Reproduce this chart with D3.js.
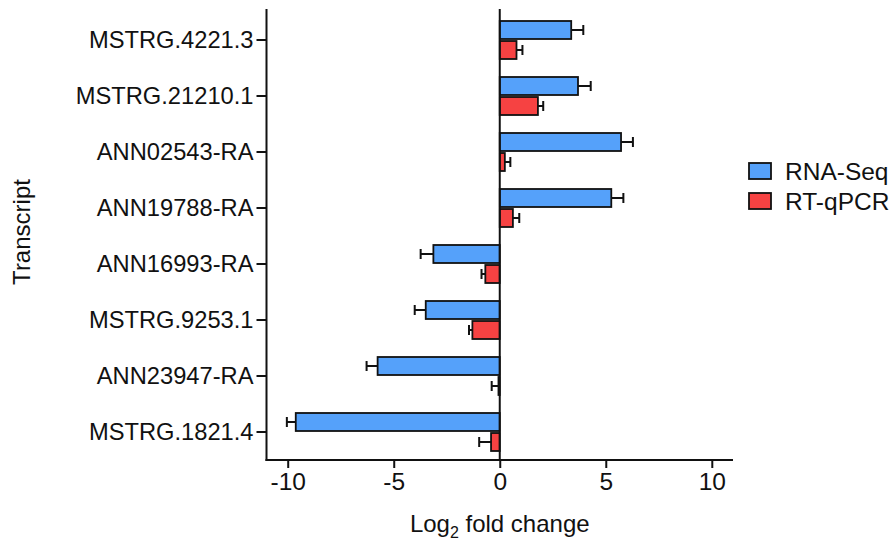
<!DOCTYPE html>
<html>
<head>
<meta charset="utf-8">
<script src="https://cdn.jsdelivr.net/npm/d3@7"></script>
<style>
  body { margin: 0; background: #fff; }
  svg { display: block; font-family: "Liberation Sans", Arial, sans-serif; }
</style>
</head>
<body>
<svg width="890" height="540"></svg>
<script>
const transcripts = ["MSTRG.4221.3", "MSTRG.21210.1", "ANN02543-RA", "ANN19788-RA",
                     "ANN16993-RA", "MSTRG.9253.1", "ANN23947-RA", "MSTRG.1821.4"];
const rnaSeq    = [3.37, 3.69, 5.72, 5.26, -3.13, -3.49, -5.76, -9.62];
const rnaSeqErr = [0.57, 0.60, 0.56, 0.57, 0.60, 0.52, 0.52, 0.42];
const qpcr      = [0.79, 1.80, 0.24, 0.62, -0.68, -1.29, -0.06, -0.41];
const qpcrErr   = [0.28, 0.25, 0.26, 0.30, 0.18, 0.16, 0.32, 0.56];
const xTicks = [-10, -5, 0, 5, 10];
const seriesNames = ["RNA-Seq", "RT-qPCR"];
const colors = ["#55A1FA", "#F64242"];

const svg = d3.select("svg");

const x = d3.scaleLinear().domain([-11, 11]).range([266.5, 733]);
const y = d3.scaleBand().domain(transcripts).range([12, 460]);

const series = [
    transcripts.map((t, i) => ({ t, v: rnaSeq[i], e: rnaSeqErr[i], s: 0 })),
    transcripts.map((t, i) => ({ t, v: qpcr[i], e: qpcrErr[i], s: 1 })),
];

const barH = 18;
const barY = (d) => y(d.t) + y.bandwidth() / 2 + (d.s === 0 ? -barH - 1 : 1);

const groups = svg.append("g")
    .selectAll("g")
    .data(series)
    .enter()
    .append("g");

// error bars first, outlines on top
groups.selectAll("path.err")
    .data(d => d)
    .enter()
    .append("path")
    .attr("class", "err")
    .attr("d", d => {
        const cy = barY(d) + barH / 2;
        const x0 = x(d.v);
        const x1 = x(d.v + (d.v >= 0 ? d.e : -d.e));
        return `M${x0},${cy}H${x1}M${x1},${cy - 5}V${cy + 5}`;
    })
    .style("stroke", "#111")
    .style("stroke-width", 2)
    .style("fill", "none");

groups.selectAll("rect")
    .data(d => d)
    .enter()
    .append("rect")
    .attr("x", d => x(Math.min(0, d.v)))
    .attr("y", d => barY(d))
    .attr("width", d => Math.abs(x(d.v) - x(0)))
    .attr("height", barH)
    .style("fill", d => colors[d.s])
    .style("stroke", "#111")
    .style("stroke-width", 1.8);

// zero line
svg.append("line")
    .attr("x1", x(0)).attr("x2", x(0))
    .attr("y1", 9).attr("y2", 460)
    .style("stroke", "#111")
    .style("stroke-width", 2);

const xAxis = svg.append("g")
    .attr("transform", "translate(0,460)")
    .call(d3.axisBottom(x).tickValues(xTicks).tickFormat(d => String(d))
        .tickSize(8).tickPadding(5).tickSizeOuter(0));

const yAxis = svg.append("g")
    .attr("transform", `translate(${x.range()[0]},0)`)
    .call(d3.axisLeft(y).tickSize(10).tickPadding(3).tickSizeOuter(0));

[xAxis, yAxis].forEach(a => {
    a.select(".domain").style("stroke", "#111").style("stroke-width", 2);
    a.selectAll(".tick line").style("stroke", "#111").style("stroke-width", 2);
    a.selectAll("text").style("font-size", "24.5px").style("fill", "#111")
        .style("font-family", "'Liberation Sans', Arial, sans-serif");
});
yAxis.selectAll("text").style("font-size", "23.7px");
yAxis.select(".domain").attr("d", "M0,9V461");
xAxis.select(".domain").attr("d", `M${x.range()[0] - 1},0H${x.range()[1]}`);

// axis titles
const xt = svg.append("text")
    .attr("x", x(0))
    .attr("y", 532)
    .attr("text-anchor", "middle")
    .style("font-size", "24px")
    .style("fill", "#111");
xt.append("tspan").text("Log");
xt.append("tspan").text("2").attr("dy", 6).style("font-size", "16px");
xt.append("tspan").text(" fold change").attr("dy", -6);

svg.append("text")
    .attr("transform", "translate(30,232) rotate(-90)")
    .attr("text-anchor", "middle")
    .style("font-size", "24px")
    .style("fill", "#111")
    .text("Transcript");

// legend
const legend = svg.append("g")
    .selectAll("g")
    .data(seriesNames)
    .enter()
    .append("g")
    .attr("transform", (d, i) => `translate(749,${163 + i * 30})`);

legend.append("rect")
    .attr("width", 22)
    .attr("height", 16)
    .style("fill", (d, i) => colors[i])
    .style("stroke", "#111")
    .style("stroke-width", 1.8);

legend.append("text")
    .attr("x", 36)
    .attr("y", 17)
    .style("font-size", "24.5px")
    .style("fill", "#111")
    .text(d => d);
</script>
</body>
</html>
